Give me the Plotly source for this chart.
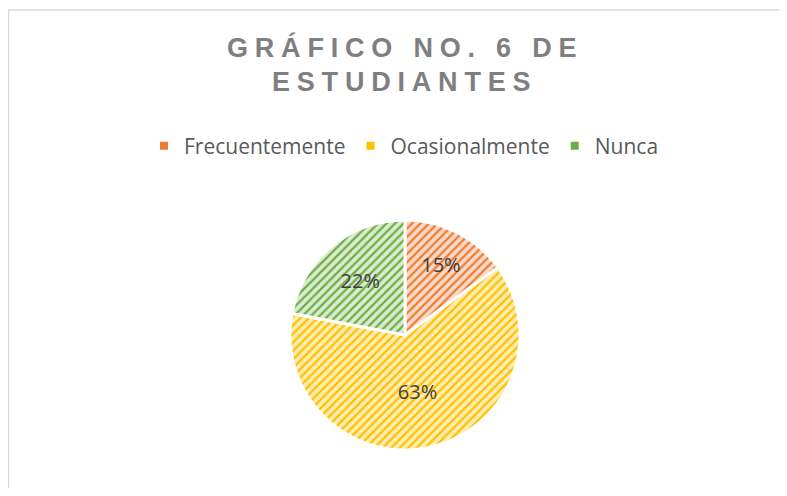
import plotly.graph_objects as go

categories = ["Frecuentemente", "Ocasionalmente", "Nunca"]
values = [15, 63, 22]
fg_colors = ["#ED7D31", "#FFC000", "#70AD47"]
bg_colors = ["#FADACA", "#FFEDB3", "#DAEBCF"]
title_lines = ["GRÁFICO NO. 6 DE", "ESTUDIANTES"]

OFF = 8  # page body margin offset
W, H = 787 - 2 * OFF, 496 - 2 * OFF


def fx(px):  # screen x -> paper fraction
    return (px - OFF) / W


def fy(py):  # screen y -> paper fraction
    return 1 - (py - OFF) / H


cx, cy, r = 405, 335, 115

fig = go.Figure()
fig.add_trace(go.Pie(
    labels=categories,
    values=values,
    sort=False,
    direction="clockwise",
    rotation=0,
    texttemplate="%{percent:.0%}",
    textposition="inside",
    insidetextorientation="horizontal",
    textfont=dict(family="Open Sans, Liberation Sans, sans-serif", size=20, color="#404040"),
    marker=dict(
        colors=bg_colors,
        line=dict(color="white", width=3),
        pattern=dict(shape="/", fgcolor=fg_colors, bgcolor=bg_colors, size=6, solidity=0.38),
    ),
    domain=dict(x=[fx(cx - r), fx(cx + r)], y=[fy(cy + r), fy(cy - r)]),
    hoverinfo="label+percent",
    showlegend=False,
))

for name, col in zip(categories, fg_colors):
    fig.add_trace(go.Scatter(
        x=[None], y=[None], mode="markers", name=name,
        marker=dict(symbol="square", size=8, color=col),
        showlegend=True, hoverinfo="skip",
    ))

fig.update_xaxes(visible=False)
fig.update_yaxes(visible=False)

tfont = dict(family="Liberation Sans, Arial, sans-serif", size=27, color="#7F7F7F")
annotations = []
for line, ymid in zip(title_lines, [47, 82]):
    annotations.append(dict(
        text='<b><span style="letter-spacing:6.8px">' + line + '</span></b>',
        xref="paper", yref="paper", x=fx(405), y=fy(ymid),
        xanchor="center", yanchor="middle", showarrow=False, font=tfont,
    ))

fig.update_layout(
    width=W, height=H,
    margin=dict(l=0, r=0, t=0, b=0),
    paper_bgcolor="white",
    plot_bgcolor="white",
    showlegend=True,
    legend=dict(
        orientation="h", x=fx(144), xanchor="left", y=fy(146), yanchor="middle",
        font=dict(family="Open Sans, Liberation Sans, sans-serif", size=21, color="#595959"),
        itemwidth=30, traceorder="normal",
    ),
    annotations=annotations,
    shapes=[
        dict(type="line", xref="paper", yref="paper", x0=fx(8), x1=1.0, y0=fy(10), y1=fy(10),
             line=dict(color="#D9D9D9", width=1.5)),
        dict(type="line", xref="paper", yref="paper", x0=fx(8.5), x1=fx(8.5), y0=0, y1=fy(10),
             line=dict(color="#D9D9D9", width=1.5)),
    ],
)

fig.write_html("out.html")
